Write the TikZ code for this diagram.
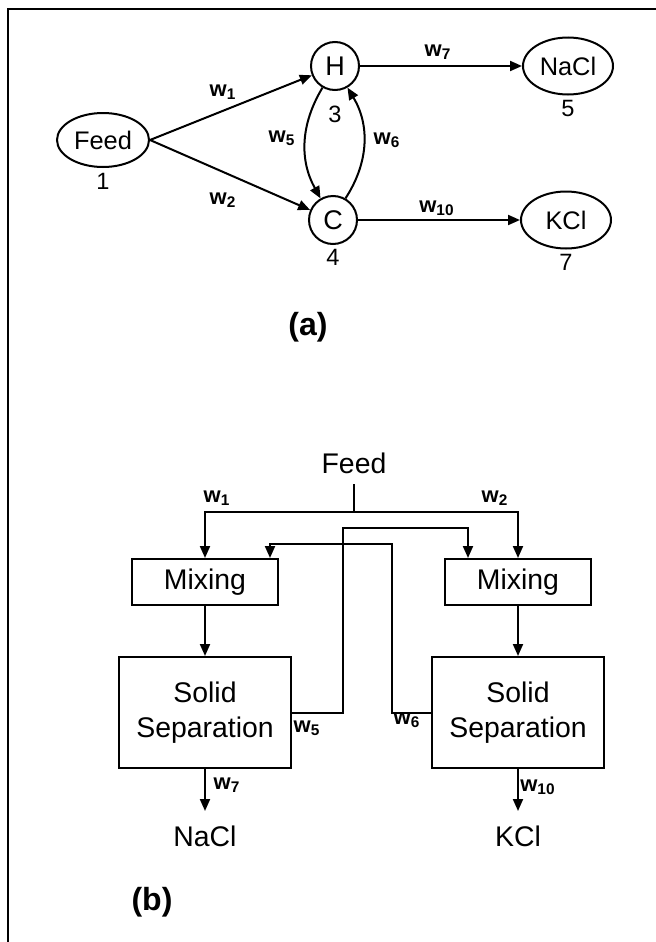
\documentclass[tikz,border=0pt]{standalone}
\usepackage{fontspec}
\setmainfont{Liberation Sans}
\usetikzlibrary{positioning,arrows.meta,calc,shapes.geometric}

\begin{document}
\begin{tikzpicture}[
  x=0.5pt, y=-0.5pt,
  line width=1pt,
  node distance=25pt,
  arr/.style={-{Triangle[length=6pt,width=5pt]}},
  unit/.style={
    ellipse, draw, inner sep=0pt,
    minimum width=45pt, minimum height=28.5pt,
    font=\fontsize{12.7}{15}\selectfont
  },
  stage/.style={
    circle, draw, inner sep=0pt, minimum size=24pt,
    font=\fontsize{13.5}{16}\selectfont
  },
  mixbox/.style={
    rectangle, draw, minimum width=73pt, minimum height=23pt,
    inner sep=2pt, font=\fontsize{14.2}{17.5}\selectfont
  },
  sepbox/.style={
    rectangle, draw, minimum width=86pt, minimum height=55.5pt,
    inner sep=2pt, align=center, font=\fontsize{14.2}{17.5}\selectfont
  },
  prod/.style={inner xsep=2pt, inner ysep=7pt, font=\fontsize{14.2}{17.5}\selectfont},
  num/.style={font=\fontsize{11.8}{14}\selectfont, inner sep=0pt},
  flow/.style={font=\fontsize{11}{13}\selectfont\bfseries, inner sep=0pt},
  tag/.style={font=\fontsize{16}{19}\selectfont\bfseries, inner sep=0pt}
]
\useasboundingbox (0,0) rectangle (656,942);
\draw[line width=1.2pt] (8,942) -- (8,9) -- (656,9);

% (a) network
\node[unit, minimum width=46pt, minimum height=27pt, label={[num, label distance=2pt]below:1}] (feedA) at (103,140) {Feed};
\node[stage, label={[num, label distance=7pt]below:3}] (H) at (335,66) {H};
\node[stage, label={[num, label distance=1.5pt]below:4}] (C) at (333,220) {C};
\node[unit, right=81pt of H, label={[num, label distance=2pt]below:5}] (naclA) {NaCl};
\node[unit, right=81pt of C, label={[num, label distance=2pt]below:7}] (kclA) {KCl};

\draw[arr] (feedA.east) -- (H);
\draw[arr] (feedA.east) -- (C);
\draw[arr] (H.240) to[bend right=30] (C.120);
\draw[arr] (C.60) to[bend right=32] (H.300);
\draw[arr] (H) -- (naclA);
\draw[arr] (C) -- (kclA);

\node[flow] (aw1) at (223,92) {w\textsubscript{1}};
\node[flow] (aw2) at (223,200) {w\textsubscript{2}};
\node[flow] (aw5) at (282,138) {w\textsubscript{5}};
\node[flow] (aw6) at (387,140) {w\textsubscript{6}};
\node[flow] (aw7) at (438,52) {w\textsubscript{7}};
\node[flow] (aw10) at (437,208) {w\textsubscript{10}};
\node[tag] (tagA) at (308,327) {(a)};

% (b) flowsheet
\node[prod, inner ysep=5pt] (feedB) at (354,463) {Feed};
\coordinate[below=14pt of feedB] (split);
\node[mixbox] (mixL) at (205,582) {Mixing};
\node[mixbox] (mixR) at (518,582) {Mixing};
\node[sepbox, below=of mixL] (sepL) {Solid\\Separation};
\node[sepbox, below=of mixR] (sepR) {Solid\\Separation};
\node[prod, below=21pt of sepL] (naclB) {NaCl};
\node[prod, below=21pt of sepR] (kclB) {KCl};
\coordinate (r5) at (343,528);
\coordinate (r6) at (392,544);

\draw (feedB) -- (split);
\draw[arr] (split) -| (mixL.north);
\draw[arr] (split) -| (mixR.north);
\draw[arr] (mixL) -- (sepL);
\draw[arr] (mixR) -- (sepR);
\draw[arr] (sepL.east) -| (r5) -| ($(mixR.north)+(-50,0)$);
\draw[arr] (sepR.west) -| (r6) -| ($(mixL.north)+(65,0)$);
\draw[arr] (sepL) -- (naclB);
\draw[arr] (sepR) -- (kclB);

\node[flow] (bw1) at (217,498) {w\textsubscript{1}};
\node[flow] (bw2) at (495,498) {w\textsubscript{2}};
\node[flow] (bw5) at (307,728) {w\textsubscript{5}};
\node[flow] (bw6) at (407,720) {w\textsubscript{6}};
\node[flow] (bw7) at (227,785) {w\textsubscript{7}};
\node[flow] (bw10) at (538,787) {w\textsubscript{10}};
\node[tag] (tagB) at (152,902) {(b)};
\end{tikzpicture}
\end{document}
